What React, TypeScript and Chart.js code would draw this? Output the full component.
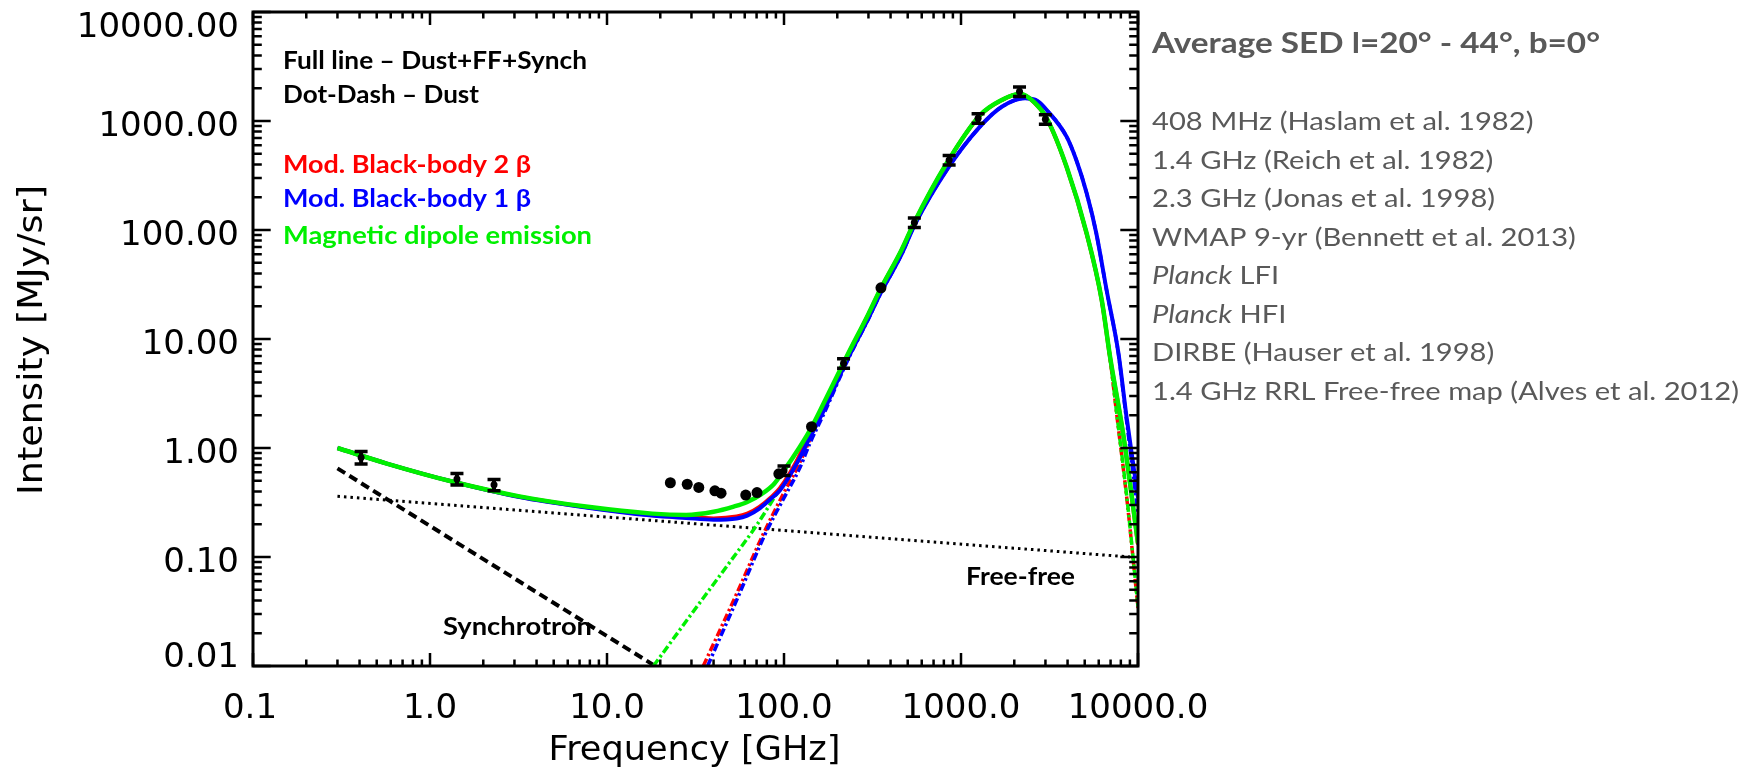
import React, { useEffect, useRef } from "react";
import { Chart, registerables } from "chart.js";

Chart.register(...registerables);

// ---------- observed data points (GHz, MJy/sr) ----------
const pointFreq = [0.408, 1.42, 2.3, 22.8, 28.4, 33.0, 40.7, 44.1, 60.8, 70.4, 93.5, 100, 143, 217, 353, 545, 857, 1249, 2141, 2997];
const pointVal = [0.82, 0.52, 0.46, 0.48, 0.465, 0.435, 0.405, 0.385, 0.37, 0.39, 0.58, 0.62, 1.57, 6.0, 29.5, 117, 438, 1060, 1860, 1040];
const pointErr = [0.13, 0.12, 0.12, 0, 0, 0, 0, 0, 0, 0, 0, 0.1, 0, 0.1, 0, 0.1, 0.1, 0.1, 0.1, 0.1];

// ---------- total models (Dust + FF + Synch) ----------
const mdeTotFreq = [0.3, 0.57, 1.35, 3.2, 7.6, 18, 28, 40, 52, 62, 75, 87, 99, 113, 140, 170, 226, 300, 348, 462, 545, 830, 1280, 1700, 2150, 2600, 3050, 3950, 5130, 6240, 6950, 8240, 10000];
const mdeTotVal = [1.0, 0.72, 0.49, 0.36, 0.29, 0.25, 0.243, 0.26, 0.29, 0.32, 0.38, 0.46, 0.61, 0.83, 1.45, 2.7, 6.9, 17, 28, 66, 118, 410, 1130, 1560, 1780, 1480, 1060, 380, 93, 22.8, 6.9, 1.36, 0.134];

const bb1TotFreq = [0.3, 0.57, 1.35, 3.2, 7.6, 18, 28, 40, 54, 62, 73, 84, 95, 118, 140, 170, 226, 300, 348, 462, 545, 830, 1280, 1700, 2300, 2700, 3050, 3950, 4500, 5130, 5800, 6650, 7745, 8610, 10000];
const bb1TotVal = [1.0, 0.72, 0.49, 0.355, 0.285, 0.24, 0.228, 0.22, 0.226, 0.24, 0.28, 0.34, 0.41, 0.72, 1.25, 2.3, 6.3, 15.5, 25.5, 60, 110, 355, 887, 1350, 1616, 1530, 1262, 718, 430, 217, 95, 28, 7.5, 1.94, 0.35];

const bb2TotFreq = [0.3, 0.57, 1.35, 3.2, 7.6, 18, 28, 40, 54, 62, 73, 84, 95, 118, 140, 170, 226, 300, 348, 462, 545, 830, 1280, 1700, 2150, 2600, 3050, 3950, 5130, 6240, 6950, 8240, 10000];
const bb2TotVal = [1.0, 0.72, 0.49, 0.357, 0.287, 0.242, 0.232, 0.226, 0.235, 0.25, 0.29, 0.35, 0.43, 0.76, 1.38, 2.6, 6.8, 16.8, 27.8, 65.5, 117, 408, 1125, 1555, 1770, 1475, 1055, 378, 92, 22.5, 6.8, 1.34, 0.13];

// ---------- dust-only components (dot-dash) ----------
const mdeDustFreq = [18.3, 30, 49.5, 70, 90, 108, 140, 170, 226, 300, 348, 462, 545, 830, 1280, 1700, 2150, 2600, 3050, 3950, 5130, 6240, 6950, 7550, 8690, 10000];
const mdeDustVal = [0.01, 0.03, 0.09, 0.195, 0.37, 0.58, 1.3, 2.55, 6.75, 16.8, 27.8, 65.5, 117, 409, 1129, 1559, 1779, 1479, 1059, 379, 92.8, 22.7, 6.8, 2.2, 0.33, 0.035];

const bb2DustFreq = [35, 54, 76, 100, 120, 146, 170, 226, 300, 348, 462, 545, 830, 1280, 1700, 2150, 2600, 3050, 3950, 5130, 6240, 6950, 7550, 8690, 10000];
const bb2DustVal = [0.01, 0.046, 0.16, 0.39, 0.68, 1.4, 2.45, 6.65, 16.6, 27.6, 65, 116.5, 407, 1124, 1554, 1769, 1474, 1054, 377, 91.5, 22.3, 6.7, 2.15, 0.32, 0.034];

const bb1DustFreq = [37, 56, 78, 102, 122, 140, 170, 226, 300, 348, 462, 545, 830, 1280, 1700, 2300, 2700, 3050, 3950, 4500, 5130, 5800, 6650, 7745, 8610, 10000];
const bb1DustVal = [0.01, 0.046, 0.16, 0.37, 0.64, 1.1, 2.15, 6.1, 15.3, 25.3, 59.8, 109.8, 354.8, 886.8, 1349.8, 1615.8, 1529.8, 1261.8, 717.8, 429.8, 216.8, 94.8, 27.8, 7.4, 1.8, 0.25];

// ---------- foreground components ----------
const synchFreq = [0.3, 18.7];
const synchVal = [0.65, 0.01];
const freeFreeFreq = [0.3, 9000];
const freeFreeVal = [0.36, 0.1];

// ---------- axes & text ----------
const xTickValues = [0.1, 1, 10, 100, 1000, 10000];
const xTickLabels = ["0.1", "1.0", "10.0", "100.0", "1000.0", "10000.0"];
const yTickValues = [0.01, 0.1, 1, 10, 100, 1000, 10000];
const yTickLabels = ["0.01", "0.10", "1.00", "10.00", "100.00", "1000.00", "10000.00"];
const xTitle = "Frequency [GHz]";
const yTitle = "Intensity [MJy/sr]";
const panelTitle = "Average SED l=20° - 44°, b=0°";
const sourceLines: [string, string][] = [
  ["", "408 MHz (Haslam et al. 1982)"],
  ["", "1.4 GHz (Reich et al. 1982)"],
  ["", "2.3 GHz (Jonas et al. 1998)"],
  ["", "WMAP 9-yr (Bennett et al. 2013)"],
  ["Planck", " LFI"],
  ["Planck", " HFI"],
  ["", "DIRBE (Hauser et al. 1998)"],
  ["", "1.4 GHz RRL Free-free map (Alves et al. 2012)"],
];
const noteLines = ["Full line – Dust+FF+Synch", "Dot-Dash – Dust"];
const modelNames = ["Mod. Black-body 2 β", "Mod. Black-body 1 β", "Magnetic dipole emission"];
const componentLabels = ["Synchrotron", "Free-free"];

const RED = "#ff0000";
const BLUE = "#0000ff";
const GREEN = "#00f000";
const GRAY = "#595959";
const SANS = '"Lato", "Noto Sans", sans-serif';
const AXISFONT = '"DejaVu Sans", sans-serif';

const pts = (f: number[], v: number[]) => f.map((x, i) => ({ x, y: v[i] }));

function fitText(ctx: CanvasRenderingContext2D, text: string, x: number, y: number, font: string, width: number, color: string, align: "left" | "center" | "right" = "left") {
  ctx.save();
  ctx.font = font;
  ctx.fillStyle = color;
  ctx.textAlign = "left";
  ctx.textBaseline = "alphabetic";
  const m = ctx.measureText(text).width;
  const s = width / m;
  let x0 = x;
  if (align === "center") x0 = x - width / 2;
  if (align === "right") x0 = x - width;
  ctx.translate(x0, y);
  ctx.scale(s, 1);
  ctx.fillText(text, 0, 0);
  ctx.restore();
}

const sedPlugin = {
  id: "sedPlugin",
  afterDatasetsDraw(chart: any) {
    const ctx: CanvasRenderingContext2D = chart.ctx;
    const xs = chart.scales.x;
    const ys = chart.scales.y;
    const { left, right, top, bottom } = chart.chartArea;
    ctx.save();
    // error bars
    ctx.strokeStyle = "#000";
    ctx.lineWidth = 4;
    pointFreq.forEach((f, i) => {
      const e = pointErr[i];
      if (!e) return;
      const px = xs.getPixelForValue(f);
      const y1 = ys.getPixelForValue(pointVal[i] * (1 + e));
      const y0 = ys.getPixelForValue(pointVal[i] * (1 - e));
      ctx.beginPath();
      ctx.moveTo(px, y0);
      ctx.lineTo(px, y1);
      ctx.stroke();
      ctx.lineWidth = 3.5;
      ctx.beginPath();
      ctx.moveTo(px - 6.5, y0);
      ctx.lineTo(px + 6.5, y0);
      ctx.moveTo(px - 6.5, y1);
      ctx.lineTo(px + 6.5, y1);
      ctx.stroke();
      ctx.lineWidth = 4;
    });
    // frame
    ctx.lineWidth = 3;
    ctx.strokeRect(left, top, right - left, bottom - top);
    // ticks
    ctx.lineWidth = 2.5;
    ctx.beginPath();
    for (let d = -1; d <= 4; d++) {
      for (let k = 1; k <= 9; k++) {
        const v = k * Math.pow(10, d);
        if (v > 10000 * 1.0001) continue;
        const px = xs.getPixelForValue(v);
        const len = k === 1 ? 13 : 6.5;
        ctx.moveTo(px, bottom);
        ctx.lineTo(px, bottom - len);
        ctx.moveTo(px, top);
        ctx.lineTo(px, top + len);
      }
    }
    for (let d = -2; d <= 4; d++) {
      for (let k = 1; k <= 9; k++) {
        const v = k * Math.pow(10, d);
        if (v > 10000 * 1.0001) continue;
        const py = ys.getPixelForValue(v);
        const len = k === 1 ? 17.7 : 8.8;
        ctx.moveTo(left, py);
        ctx.lineTo(left + len, py);
        ctx.moveTo(right, py);
        ctx.lineTo(right - len, py);
      }
    }
    ctx.stroke();
    ctx.restore();
  },
  afterDraw(chart: any) {
    const ctx: CanvasRenderingContext2D = chart.ctx;
    const xs = chart.scales.x;
    const ys = chart.scales.y;
    const { left, right, top, bottom } = chart.chartArea;
    ctx.save();
    // tick labels
    ctx.font = `34px ${AXISFONT}`;
    ctx.fillStyle = "#000";
    ctx.textBaseline = "alphabetic";
    ctx.textAlign = "right";
    yTickValues.forEach((v, i) => {
      const py = ys.getPixelForValue(v);
      const base = Math.min(Math.max(py + 15, top + 25), bottom + 1);
      ctx.fillText(yTickLabels[i], left - 14, base);
    });
    ctx.textAlign = "center";
    xTickValues.forEach((v, i) => {
      const px = xs.getPixelForValue(v);
      ctx.fillText(xTickLabels[i], px - (i === 0 ? 3 : 0), bottom + 52);
    });
    // axis titles
    fitText(ctx, xTitle, (left + right) / 2 - 1, bottom + 94, `34px ${AXISFONT}`, 292, "#000", "center");
    ctx.save();
    ctx.translate(42, (top + bottom) / 2 + 1);
    ctx.rotate(-Math.PI / 2);
    fitText(ctx, yTitle, 0, 0, `34px ${AXISFONT}`, 310, "#000", "center");
    ctx.restore();

    // in-plot notes
    const bold = `bold 24px ${SANS}`;
    fitText(ctx, noteLines[0], left + 30, top + 57, bold, 304, "#000");
    fitText(ctx, noteLines[1], left + 30, top + 91, bold, 196, "#000");
    fitText(ctx, modelNames[0], left + 30, top + 161, bold, 248, RED);
    fitText(ctx, modelNames[1], left + 30, top + 195, bold, 248, BLUE);
    fitText(ctx, modelNames[2], left + 30, top + 232, bold, 309, GREEN);
    fitText(ctx, componentLabels[0], 443, 635, bold, 149, "#000");
    fitText(ctx, componentLabels[1], 966, 585, bold, 109, "#000");

    // right-side panel
    const rx = right + 14;
    fitText(ctx, panelTitle, rx, 53, `bold 28px ${SANS}`, 448, GRAY);
    const regFont = `25px ${SANS}`;
    const itFont = `italic 25px ${SANS}`;
    ctx.font = regFont;
    const longest = ctx.measureText(sourceLines[sourceLines.length - 1][1]).width;
    const sc = 587 / longest;
    sourceLines.forEach(([it, rest], i) => {
      const base = 130 + i * 38.5;
      ctx.save();
      ctx.translate(rx, base);
      ctx.scale(sc, 1);
      ctx.fillStyle = GRAY;
      ctx.textAlign = "left";
      let off = 0;
      if (it) {
        ctx.font = itFont;
        ctx.fillText(it, 0, 0);
        off = ctx.measureText(it).width;
      }
      ctx.font = regFont;
      ctx.fillText(rest, off, 0);
      ctx.restore();
    });
    ctx.restore();
  },
};

function curve(f: number[], v: number[], color: string, width: number, dash: number[], order: number) {
  return {
    data: pts(f, v),
    showLine: true,
    borderColor: color,
    backgroundColor: color,
    borderWidth: width,
    borderDash: dash,
    pointRadius: 0,
    fill: false,
    cubicInterpolationMode: "monotone" as const,
    order,
  };
}

export default function App() {
  const ref = useRef<HTMLCanvasElement | null>(null);
  useEffect(() => {
    if (!ref.current) return;
    const dotDash = [8, 3, 2.5, 3];
    const chart = new Chart(ref.current, {
      type: "scatter",
      data: {
        datasets: [
          {
            data: pts(pointFreq, pointVal),
            showLine: false,
            pointRadius: (c: any) => (pointErr[c.dataIndex] > 0 ? 3.5 : 5.5),
            pointBackgroundColor: "#000",
            pointBorderColor: "#000",
            pointBorderWidth: 0,
            order: 0,
          } as any,
          curve(mdeTotFreq, mdeTotVal, GREEN, 4.5, [], 1),
          curve(bb1TotFreq, bb1TotVal, BLUE, 4, [], 2),
          curve(bb2TotFreq, bb2TotVal, RED, 4, [], 3),
          curve(mdeDustFreq, mdeDustVal, GREEN, 3.5, dotDash, 4),
          curve(bb1DustFreq, bb1DustVal, BLUE, 3.5, dotDash, 5),
          curve(bb2DustFreq, bb2DustVal, RED, 3.5, dotDash, 6),
          curve(synchFreq, synchVal, "#000", 4, [9, 5], 7),
          curve(freeFreeFreq, freeFreeVal, "#000", 3, [2.5, 4], 8),
        ],
      },
      options: {
        animation: false,
        responsive: true,
        maintainAspectRatio: false,
        events: [],
        layout: { padding: { left: 0, top: 12, right: 620, bottom: 0 } },
        plugins: { legend: { display: false }, tooltip: { enabled: false } },
        scales: {
          x: {
            type: "logarithmic",
            min: 0.1,
            max: 10000,
            grid: { display: false, drawTicks: false },
            border: { display: false },
            ticks: { display: false },
            afterFit: (s: any) => {
              s.height = 106;
            },
          },
          y: {
            type: "logarithmic",
            min: 0.01,
            max: 10000,
            grid: { display: false, drawTicks: false },
            border: { display: false },
            ticks: { display: false },
            afterFit: (s: any) => {
              s.width = 253;
            },
          },
        },
      },
      plugins: [sedPlugin],
    });
    return () => chart.destroy();
  }, []);
  return (
    <div style={{ position: "fixed", left: 0, top: 0, width: 1758, height: 772, background: "#fff" }}>
      <canvas ref={ref} />
    </div>
  );
}
